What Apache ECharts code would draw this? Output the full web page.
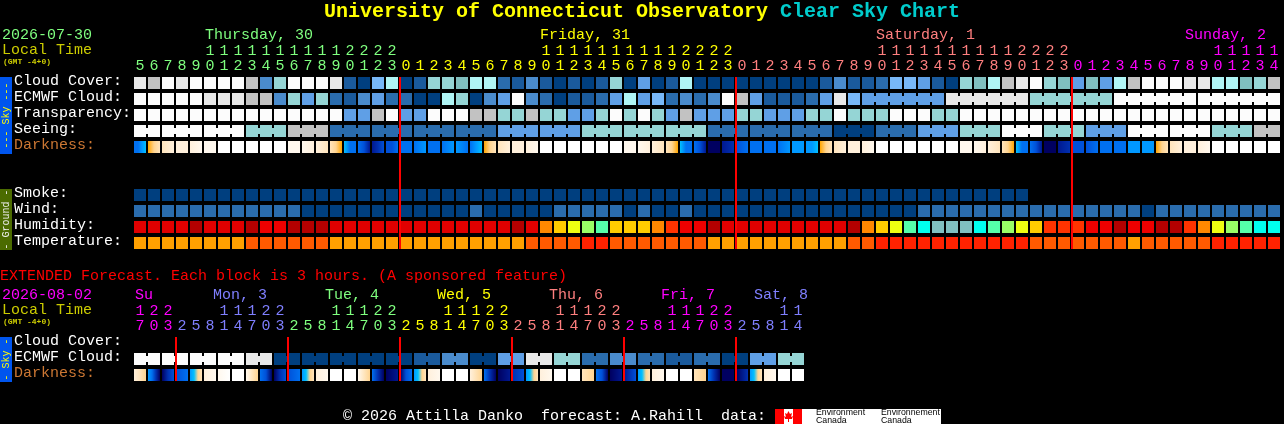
<!DOCTYPE html>
<html><head><meta charset="utf-8">
<style>html,body{margin:0;padding:0;background:#000}#c{width:1284px;height:424px}</style>
<script src="https://cdn.jsdelivr.net/npm/echarts@6/dist/echarts.min.js"></script>
</head><body><div id="c"></div>
<script>
// ---------- categories & tick labels
const skyRowNames = ['Cloud Cover:','ECMWF Cloud:','Transparency:','Seeing:','Darkness:','','','Smoke:','Wind:','Humidity:','Temperature:'];
const extRowNames = ['Cloud Cover:','ECMWF Cloud:','Darkness:'];
const hourLabels = ['5','6','7','8','9','10','11','12','13','14','15','16','17','18','19','20','21','22','23',
 '0','1','2','3','4','5','6','7','8','9','10','11','12','13','14','15','16','17','18','19','20','21','22','23',
 '0','1','2','3','4','5','6','7','8','9','10','11','12','13','14','15','16','17','18','19','20','21','22','23',
 '0','1','2','3','4','5','6','7','8','9','10','11','12','13','14'];
const hourDayCounts = [19,24,24,15];
const extHourLabels = ['17','20','23','2','5','8','11','14','17','20','23','2','5','8','11','14','17','20','23','2','5','8','11','14','17','20','23','2','5','8','11','14','17','20','23','2','5','8','11','14','17','20','23','2','5','8','11','14'];
const extDayCounts = [3,8,8,8,8,8,5];
const dayLabels = ['Thursday, 30','Friday, 31','Saturday, 1','Sunday, 2'];
const extDayLabels = ['Su','Mon, 3','Tue, 4','Wed, 5','Thu, 6','Fri, 7','Sat, 8'];
const midnightCols = [19,43,67];
const extMidnightCols = [3,11,19,27,35,43];

// ---------- series values (levels)
const cloudCover = [10,9,11,10,11,11,11,11,9,3,7,11,11,11,10,1,0,5,6,0,1,7,7,8,6,6,2,1,3,1,0,1,0,1,7,0,4,0,1,6,0,0,0,0,0,0,0,0,0,1,3,1,1,2,5,5,4,1,0,7,8,6,9,10,11,7,8,4,8,4,6,9,11,11,11,10,10,6,6,8,7,9];
const ecmwfCloud = [11,11,11,11,11,10,10,10,9,9,3,7,4,7,2,1,3,4,2,2,0,0,6,7,0,3,4,11,3,2,0,1,1,2,4,6,4,5,2,3,2,3,11,9,4,1,1,1,2,4,10,5,4,4,4,4,4,4,10,10,10,10,10,10,7,7,7,7,7,7,11,11,11,11,11,11,11,11,11,11,11,11];
const ecmwfGroupStarts = [52,58,64,70,76];
const transparency = [11,11,11,11,11,11,11,11,11,11,11,11,11,11,11,4,4,9,11,4,4,11,11,11,9,9,7,7,9,7,7,4,4,7,11,7,11,7,4,9,4,4,4,7,7,4,4,4,7,7,11,7,7,7,11,11,11,7,7,11,11,11,11,11,11,11,11,11,11,11,11,11,11,11,11,11,11,11,11,11,11,11];
const seeing = [11,11,11,11,11,11,11,11,7,7,7,9,9,9,2,2,2,2,2,2,2,2,2,2,2,2,4,4,4,4,4,4,7,7,7,7,7,7,7,7,7,2,2,2,2,2,2,2,2,2,0,0,0,2,2,2,4,4,4,7,7,7,11,11,11,7,7,7,4,4,4,11,11,11,11,11,11,7,7,7,9,9];
const seeingGroupStarts = [0,2,5,8,11,14,17,20,23,26,29,32,35,38,41,44,47,50,53,56,59,62,65,68,71,74,77,80];
const darkness = [[8,8,7,6],[5,4,3],[3,2],[2,2],[2,1],[1,1],[0,0],[0,0],[0,0],[0,0],[0,0],[1,1],[1,2],[2,3],[3,4,5],[6,8,8],[8,9,11],[11,10,9],[9,9,8],[8,8],[8,7],[8,8],[8,7],[7,8],[8,7,6],[5,4,3],[3,2],[2,2],[2,1],[0,0],[0,0],[0,0],[0,0],[0,0],[0,0],[1,1],[1,2],[2,3],[3,4,5],[6,8,8],[8,9,11],[12,12],[11,10],[9,8],[8,8],[8,8],[8,7],[7,7],[7,7,6],[5,4,3],[3,2],[2,2],[2,1],[0,0],[0,0],[0,0],[0,0],[0,0],[0,0],[1,1],[1,2],[2,3],[3,4,5],[6,8,8],[8,9,11],[12,12],[11,10],[9,9],[9,8],[8,8],[8,8],[7,7],[7,7],[5,4,3],[3,2],[2,2],[2,1],[0,0],[0,0],[0,0],[0,0],[0,0]];
const smoke = [0,0,0,0,0,0,0,0,0,0,0,0,0,0,0,0,0,0,0,0,0,0,0,0,0,0,0,0,0,0,0,0,0,0,0,0,0,0,0,0,0,0,0,0,0,0,0,0,0,0,0,0,0,0,0,0,0,0,0,0,0,0,0,0];
const wind = [2,2,2,2,2,2,2,2,2,2,2,2,0,0,0,0,0,0,0,0,0,0,0,0,2,0,0,0,0,0,2,2,2,2,2,0,2,0,0,2,0,0,0,0,0,0,0,0,0,0,0,0,0,0,0,0,2,2,2,2,2,2,2,2,2,2,2,2,2,2,2,2,0,2,2,2,2,2,2,2,2,2];
const humidity = [1,1,1,1,0,1,1,1,0,2,2,0,0,0,1,1,1,1,1,1,1,1,1,1,1,1,1,0,1,4,5,6,7,8,5,5,5,4,3,2,2,0,1,1,1,1,1,1,1,1,1,0,4,5,6,8,9,10,10,10,9,8,7,6,5,3,3,3,2,2,0,2,2,0,0,3,4,6,7,8,9,9];
const temperature = [0,0,0,0,0,0,0,0,1,1,1,1,1,1,0,0,0,0,0,0,0,0,0,0,0,0,0,0,1,1,1,1,2,2,1,1,1,1,1,1,1,0,0,0,0,0,0,0,0,0,0,1,1,2,2,2,2,2,2,2,2,2,2,2,1,1,1,1,1,1,1,0,1,1,1,1,1,2,2,2,2,2];
const extEcmwf = [11,11,11,11,11,11,11,11,10,10,0,0,0,0,0,0,0,0,0,0,1,1,3,3,0,0,4,4,10,10,7,7,2,2,3,3,2,2,1,1,2,2,0,0,4,4,7,7];
const extGroupStarts = [0,2,4,6,8,10,12,14,16,18,20,22,24,26,28,30,32,34,36,38,40,42,44,46];
const extDarkness = [[2,3,4],[7,8,10,12],[12,10,9],[9,8],[7,6,4,3],[2,1],[1,0],[0,0],[1,4],[8,9,12],[12,10,9],[9,8],[7,6,4,3],[2,1],[0,0],[0,0],[1,4],[8,10,12],[12,11],[12,9,8],[7,6,4,3],[2,1],[0,0],[0,0],[2,4],[8,10,12],[12,11],[10,9],[7,6,4,3],[2,1],[0,0],[0,0],[3,4],[8,9,12],[12,11],[11,9],[7,6,4,3],[2,1],[0,0],[0,0],[3,4],[8,10,12],[12,12],[12,10],[7,6,4,3],[2,1],[0,0],[0,0]];

// ---------- colour scales
const cloudPalette = ['#003f7f','#1a5a9c','#2a6cad','#4a8bcc','#5f9fe6','#78b8f8','#b0f5f5','#95d5d5','#80bfbf','#c2c2c2','#e8e8e8','#fcfcfc'];
const windPalette = cloudPalette;
const humidityPalette = ['#b30000','#e00000','#ee0000','#ff3300','#ff8800','#ffcc00','#eeff11','#99ff66','#55ffaa','#00ffee','#80c0c0'];
const temperaturePalette = ['#ffa000','#ff5a00','#ff2200'];
const darknessPalette = ['#ffffff','#fff8ee','#fff0dc','#ffe4bc','#ffd490','#ffa500','#00c0ff','#0098ff','#0070f0','#0050d8','#0030b0','#001890','#000060'];
const dayColors = ['#7fff7f','#ffff00','#ff7f7f','#ff00ff'];
const extDayColors = ['#ff00ff','#7f7fff','#7fff7f','#ffff00','#ff7f7f','#ff00ff','#7f7fff'];

const MONO = '"Liberation Mono", monospace';
function colourBy(counts, colours){
  const out=[]; counts.forEach((n,i)=>{for(let k=0;k<n;k++)out.push(colours[i]);}); return out;
}
const hourColours = colourBy(hourDayCounts, dayColors);
const extHourColours = colourBy(extDayCounts, extDayColors);
const twoLine = v => v.length>1 ? v[0]+'\n'+v[1] : ' \n'+v;

function blockSeries(name, gridIdx, row, values, palette, groupStarts){
  const data = values.map((v,i)=>{
    const bridged = groupStarts && i+1<values.length && groupStarts.indexOf(i+1)<0 ? 1 : 0;
    return [i,row,v,bridged];
  });
  return {name, type:'custom', xAxisIndex:gridIdx, yAxisIndex:gridIdx, silent:true, clip:false, encode:{x:0,y:1},
    data,
    renderItem(p,api){
      const c = api.coord([api.value(0),api.value(1)]);
      const fill = palette[api.value(2)];
      const kids = [{type:'rect',shape:{x:c[0]-6,y:c[1]-6,width:12,height:12},style:{fill}}];
      if(api.value(3)) kids.push({type:'rect',shape:{x:c[0]+6,y:c[1]-3,width:2,height:6},style:{fill}});
      return {type:'group',children:kids};
    }};
}
function darkSeries(name, gridIdx, row, blocks){
  return {name, type:'custom', xAxisIndex:gridIdx, yAxisIndex:gridIdx, silent:true, clip:false, encode:{x:0,y:1},
    data: blocks.map((b,i)=>[i,row]),
    renderItem(p,api){
      const i=api.value(0), c=api.coord([i,api.value(1)]), b=blocks[i];
      const stops=b.map((lv,k)=>({offset:b.length>1?k/(b.length-1):0,color:darknessPalette[lv]}));
      return {type:'rect',shape:{x:c[0]-6,y:c[1]-6,width:12,height:12},
        style:{fill:new echarts.graphic.LinearGradient(0,0,1,0,stops)}};
    }};
}
function midnightSeries(name, gridIdx, cols, topRow, botRow, topInset, botInset){
  return {name, type:'custom', xAxisIndex:gridIdx, yAxisIndex:gridIdx, silent:true, clip:false, z:5, encode:{x:0},
    data: cols.map(c=>[c,topRow]),
    renderItem(p,api){
      const col=api.value(0), bw=api.size([1,0])[0];
      const x=api.coord([col,topRow])[0]-bw/2;
      const y0=api.coord([col,topRow])[1]-topInset, y1=api.coord([col,botRow])[1]+botInset;
      return {type:'rect',shape:{x,y:y0,width:2,height:y1-y0},style:{fill:'#ff0000'}};
    }};
}
function axisX(gridIndex, labels, colours){
  return {type:'category',gridIndex,position:'top',data:labels,boundaryGap:true,
    axisLine:{show:false},axisTick:{show:false},splitLine:{show:false},
    axisLabel:{show:true,interval:0,margin:2,hideOverlap:false,fontFamily:MONO,fontSize:15,lineHeight:14.5,
      formatter:twoLine,color:(v,i)=>colours[i]}};
}
function axisY(gridIndex, labels){
  return {type:'category',gridIndex,inverse:true,data:labels,
    axisLine:{show:false},axisTick:{show:false},splitLine:{show:false},
    axisLabel:{show:true,interval:0,margin:119,align:'left',
      formatter:v=>v?('{'+(v==='Darkness:'?'o':'w')+'|'+v+'}\n{s| }'):'',
      rich:{w:{color:'#ffffff',fontFamily:MONO,fontSize:15,lineHeight:15},
            o:{color:'#cc7733',fontFamily:MONO,fontSize:15,lineHeight:15},
            s:{fontSize:4,lineHeight:4}}}};
}
function txt(x,y,text,fill,size,weight){
  return {type:'text',x,y,silent:true,style:{text,fill,font:(weight?weight+' ':'')+(size||15)+'px '+MONO,verticalAlign:'middle'}};
}
function tab(x,y,w,h,fill,label,labelFill){
  return [{type:'rect',shape:{x,y,width:w,height:h},style:{fill},silent:true},
    {type:'text',x:x+w/2,y:y+h/2,rotation:Math.PI/2,silent:true,
     style:{text:label,fill:labelFill,font:'10px '+MONO,align:'center',verticalAlign:'middle'}}];
}
const dayX=[205,540,876,1185], extDayX=[135,213,325,437,549,661,754];
const logoFont='8.75px "Liberation Sans"';
const graphicEls = [
  ...tab(0,77,12,77,'#0055ee','--- Sky ---','#ffff00'),
  ...tab(0,189,12,61,'#4b6b00','- Ground -','#f0f0f0'),
  ...tab(0,337,12,45,'#0055ee','- Sky -','#ffff00'),
  txt(2,35,'2026-07-30',dayColors[0]),
  txt(2,50,'Local Time','#cccc00'),
  txt(3,62,'(GMT -4+0)','#cccc00',8,'bold'),
  ...dayLabels.map((t,i)=>txt(dayX[i],35,t,dayColors[i])),
  txt(0,276,'EXTENDED Forecast. Each block is 3 hours. (A sponsored feature)','#ff0000'),
  txt(2,295,'2026-08-02',extDayColors[0]),
  txt(2,310,'Local Time','#cccc00'),
  txt(3,322,'(GMT -4+0)','#cccc00',8,'bold'),
  ...extDayLabels.map((t,i)=>txt(extDayX[i],295,t,extDayColors[i])),
  txt(343,416,'© 2026 Attilla Danko  forecast: A.Rahill  data:','#ffffff'),
  {type:'rect',shape:{x:775,y:409,width:166,height:15},style:{fill:'#ffffff'},silent:true},
  {type:'rect',shape:{x:775,y:409,width:9,height:15},style:{fill:'#ff0000'},silent:true},
  {type:'rect',shape:{x:793,y:409,width:9,height:15},style:{fill:'#ff0000'},silent:true},
  {type:'polygon',shape:{points:[[788.5,411],[790,414],[792,413],[791,417],[793,416],[792,419],[789,419],[789,422],[788,422],[788,419],[785,419],[784,416],[786,417],[785,413],[787,414]]},style:{fill:'#ff0000'},silent:true},
  {type:'text',x:816,y:413,silent:true,style:{text:'Environment',fill:'#000',font:logoFont,verticalAlign:'middle'}},
  {type:'text',x:816,y:420.5,silent:true,style:{text:'Canada',fill:'#000',font:logoFont,verticalAlign:'middle'}},
  {type:'text',x:881,y:413,silent:true,style:{text:'Environnement',fill:'#000',font:logoFont,verticalAlign:'middle'}},
  {type:'text',x:881,y:420.5,silent:true,style:{text:'Canada',fill:'#000',font:logoFont,verticalAlign:'middle'}}
];

const chart = echarts.init(document.getElementById('c'),null,{renderer:'canvas',width:1284,height:424});
chart.setOption({
  backgroundColor:'#000000',
  animation:false,
  title:[
    {left:324,top:2,padding:0,text:'University of Connecticut Observatory',textStyle:{color:'#ffff00',fontFamily:MONO,fontWeight:'bold',fontSize:20}},
    {left:780,top:2,padding:0,text:'Clear Sky Chart',textStyle:{color:'#00cccc',fontFamily:MONO,fontWeight:'bold',fontSize:20}}
  ],
  grid:[{left:133,top:75,width:1148,height:176,containLabel:false},{left:133,top:335,width:672,height:48,containLabel:false}],
  xAxis:[axisX(0,hourLabels,hourColours),axisX(1,extHourLabels,extHourColours)],
  yAxis:[axisY(0,skyRowNames),axisY(1,extRowNames)],
  graphic:{elements:graphicEls},
  series:[
    blockSeries('Cloud Cover',0,0,cloudCover,cloudPalette),
    blockSeries('ECMWF Cloud',0,1,ecmwfCloud,cloudPalette,ecmwfGroupStarts.concat(Array.from({length:52},(_,i)=>i))),
    blockSeries('Transparency',0,2,transparency,cloudPalette),
    blockSeries('Seeing',0,3,seeing,cloudPalette,seeingGroupStarts),
    darkSeries('Darkness',0,4,darkness),
    blockSeries('Smoke',0,7,smoke,cloudPalette),
    blockSeries('Wind',0,8,wind,windPalette),
    blockSeries('Humidity',0,9,humidity,humidityPalette),
    blockSeries('Temperature',0,10,temperature,temperaturePalette),
    midnightSeries('Midnight',0,midnightCols,0,10,6,6),
    blockSeries('Ext ECMWF',1,1,extEcmwf,cloudPalette,extGroupStarts),
    darkSeries('Ext Darkness',1,2,extDarkness),
    midnightSeries('Ext Midnight',1,extMidnightCols,0,2,6,6)
  ]
});
</script></body></html>
